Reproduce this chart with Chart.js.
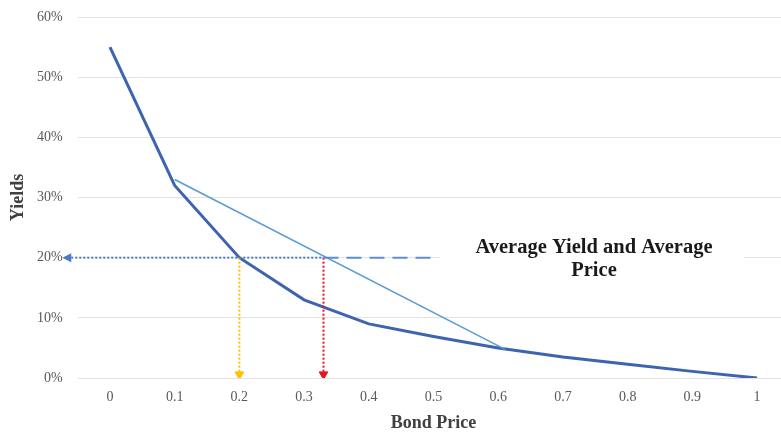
<!DOCTYPE html>
<html>
<head>
<meta charset="utf-8">
<script src="https://cdn.jsdelivr.net/npm/chart.js@4"></script>
<style>
html,body{margin:0;padding:0;background:#fff;overflow:hidden;}
#wrap{width:781px;height:432px;overflow:hidden;}
</style>
</head>
<body>
<div id="wrap"><canvas id="c" width="800" height="432"></canvas></div>
<script>
// ---- data ----
const xTicks = [0, 0.1, 0.2, 0.3, 0.4, 0.5, 0.6, 0.7, 0.8, 0.9, 1];
const bondPrice = [0, 0.1, 0.2, 0.3, 0.4, 0.5, 0.6, 0.7, 0.8, 0.9, 1];
const yields = [55, 32, 20, 13, 9, 6.9, 5, 3.5, 2.3, 1.1, 0];
const chordX = [0.1, 0.61];
const chordY = [33, 4.8];
const avgYield = 20;
const avgArrowX = [-0.066, 0.33];
const avgDashX = [0.33, 0.505];
const yellowX = 0.2;
const redX = 0.33;
const dropY = [20, 0.6];
const yTicks = [0, 10, 20, 30, 40, 50, 60];
const noteLines = ['Average Yield and Average', 'Price'];
const noteX = 0.748;
const noteY = [21.6, 17.9];

const serif = "'Liberation Serif', 'DejaVu Serif', serif";

const notePlugin = {
  id: 'note',
  afterDatasetsDraw(chart) {
    const {ctx, scales: {x, y}} = chart;
    ctx.save();
    // left arrow head of the average-yield line (outside the plot area)
    const ax = x.getPixelForValue(avgArrowX[0]), ay = y.getPixelForValue(avgYield);
    ctx.fillStyle = '#4a7cc4';
    ctx.beginPath();
    ctx.moveTo(ax - 5, ay);
    ctx.lineTo(ax + 4, ay - 4.5);
    ctx.lineTo(ax + 4, ay + 4.5);
    ctx.closePath();
    ctx.fill();
    // text box
    ctx.fillStyle = '#ffffff';
    const x0 = x.getPixelForValue(0.51), x1 = x.getPixelForValue(0.98);
    const y0 = y.getPixelForValue(24), y1 = y.getPixelForValue(16.5);
    ctx.fillRect(x0, y0, x1 - x0, y1 - y0);
    ctx.fillStyle = '#1a1a1a';
    ctx.font = "bold 20.5px " + serif;
    ctx.textAlign = 'center';
    ctx.textBaseline = 'middle';
    noteLines.forEach((t, i) => ctx.fillText(t, x.getPixelForValue(noteX), y.getPixelForValue(noteY[i])));
    ctx.restore();
  }
};

new Chart(document.getElementById('c'), {
  type: 'scatter',
  data: {
    datasets: [
      {
        data: avgArrowX.map(v => ({x: v, y: avgYield})),
        showLine: true, clip: false,
        borderColor: '#4a7cc4', borderWidth: 2, borderDash: [2, 2],
        pointRadius: 0
      },
      {
        data: avgDashX.map(v => ({x: v, y: avgYield})),
        showLine: true,
        borderColor: '#5b8fd0', borderWidth: 2, borderDash: [15, 8],
        pointRadius: 0
      },
      {
        data: dropY.map(v => ({x: yellowX, y: v})),
        showLine: true,
        borderColor: '#ffc000', borderWidth: 2, borderDash: [2, 2],
        pointStyle: 'triangle', pointRotation: 180,
        pointRadius: (c) => c.dataIndex === 1 ? 5 : 0,
        pointBackgroundColor: '#ffc000', pointBorderColor: '#ffc000', pointBorderWidth: 1
      },
      {
        data: dropY.map(v => ({x: redX, y: v})),
        showLine: true,
        borderColor: '#e8141e', borderWidth: 2, borderDash: [2, 2],
        pointStyle: 'triangle', pointRotation: 180,
        pointRadius: (c) => c.dataIndex === 1 ? 5 : 0,
        pointBackgroundColor: '#e8141e', pointBorderColor: '#e8141e', pointBorderWidth: 1
      },
      {
        data: chordX.map((v, i) => ({x: v, y: chordY[i]})),
        showLine: true,
        borderColor: '#5b9bd5', borderWidth: 1.6,
        pointRadius: 0
      },
      {
        data: bondPrice.map((v, i) => ({x: v, y: yields[i]})),
        showLine: true,
        borderColor: '#3e64b0', borderWidth: 3,
        pointRadius: 0, tension: 0
      }
    ]
  },
  options: {
    responsive: false,
    animation: false,
    devicePixelRatio: 1,
    layout: {padding: {top: 17, right: 10.6, bottom: 0, left: 0}},
    plugins: {legend: {display: false}, tooltip: {enabled: false}},
    scales: {
      x: {
        type: 'linear', min: -0.05, max: 1.05,
        afterBuildTicks: (s) => { s.ticks = xTicks.map(v => ({value: v})); },
        afterFit: (s) => { s.height = 54; s.paddingLeft = 0; s.paddingRight = 0; },
        grid: {display: false, drawTicks: false},
        border: {display: false},
        ticks: {
          padding: 11, color: '#595959', font: {family: serif, size: 14},
          callback: (v) => String(Math.round(v * 10) / 10)
        },
        title: {display: true, text: 'Bond Price', color: '#404040',
          font: {family: serif, size: 18, weight: 'bold', lineHeight: 1}, padding: {top: 0, bottom: 0}}
      },
      y: {
        min: 0, max: 60,
        afterBuildTicks: (s) => { s.ticks = yTicks.map(v => ({value: v})); },
        afterFit: (s) => { s.width = 77.6; s.paddingTop = 0; s.paddingBottom = 0; },
        grid: {color: '#e3e3e3', drawTicks: false, lineWidth: 1},
        border: {display: false},
        ticks: {padding: 15, color: '#595959', font: {family: serif, size: 14},
          callback: (v) => v + '%'},
        title: {display: true, text: 'Yields', color: '#404040',
          font: {family: serif, size: 18, weight: 'bold', lineHeight: 1}, padding: {top: 9, bottom: 0}}
      }
    }
  },
  plugins: [notePlugin]
});
</script>
</body>
</html>
